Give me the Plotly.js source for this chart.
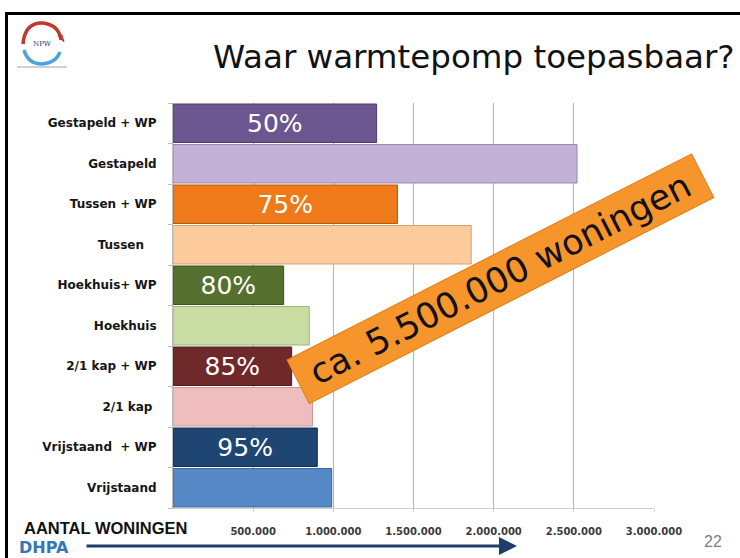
<!DOCTYPE html>
<html>
<head>
<meta charset="utf-8">
<script src="https://cdn.plot.ly/plotly-3.0.1.min.js"></script>
<style>html,body{margin:0;padding:0;background:#fff;}#chart{width:740px;height:558px;}</style>
</head>
<body>
<div id="chart"></div>
<script>
// ---- data ----
const categories = [
  "Gestapeld + WP", "Gestapeld", "Tussen + WP", "Tussen",
  "Hoekhuis+ WP", "Hoekhuis", "2/1 kap + WP", "2/1 kap",
  "Vrijstaand  + WP", "Vrijstaand"
];
const categoryLabels = [
  "Gestapeld + WP", "Gestapeld", "Tussen + WP", "Tussen\u00a0\u00a0\u00a0",
  "Hoekhuis+ WP", "Hoekhuis", "2/1 kap + WP", "2/1 kap\u00a0",
  "Vrijstaand\u00a0\u00a0+ WP", "Vrijstaand"
];
const woningen = [1270000, 2520000, 1400000, 1860000, 690000, 850000, 740000, 870000, 900000, 990000];
const percentLabels = ["50%", "", "75%", "", "80%", "", "85%", "", "95%", ""];
const barColors = ["#6b5690", "#c3b1d8", "#ef7a1a", "#fdcb9c", "#55702f", "#c9dca2", "#70292a", "#efbdbd", "#1f4572", "#5688c5"];
const barEdge = ["#4e3d6c", "#9a86b4", "#b85a0e", "#d8a277", "#3c5220", "#a0b67c", "#4f1a1b", "#c99797", "#14304f", "#3b6aa3"];
const xTickVals = [500000, 1000000, 1500000, 2000000, 2500000, 3000000];
const xTickText = ["500.000", "1.000.000", "1.500.000", "2.000.000", "2.500.000", "3.000.000"];
const title = "Waar warmtepomp toepasbaar?";
const callout = "ca. 5.500.000 woningen";

// ---- layout helpers (pixel -> paper) ----
const W = 740, H = 558;
const M = {l: 173, r: 86, t: 103, b: 50};
const pw = W - M.l - M.r, ph = H - M.t - M.b;
const px = v => (v - M.l) / pw;
const py = v => (H - M.b - v) / ph;
const pathOf = pts => pts.map(p => typeof p === "string" ? p : (px(p[0]).toFixed(4) + "," + py(p[1]).toFixed(4))).join(" ");

const trace = {
  type: "bar",
  orientation: "h",
  y: categories,
  x: woningen,
  text: percentLabels,
  textposition: "inside",
  insidetextanchor: "middle",
  textangle: 0,
  insidetextfont: {family: "DejaVu Sans", size: 25, color: "#ffffff"},
  marker: {color: barColors, line: {color: barEdge, width: 1}},
  hoverinfo: "skip",
  cliponaxis: false
};

const layout = {
  width: W, height: H,
  margin: {l: M.l, r: M.r, t: M.t, b: M.b, pad: 0},
  paper_bgcolor: "#ffffff",
  plot_bgcolor: "#ffffff",
  showlegend: false,
  bargap: 0.05,
  title: {
    text: title,
    xref: "container", yref: "container",
    x: 213 / W, xanchor: "left",
    y: 1 - 57 / H, yanchor: "middle",
    font: {family: "DejaVu Sans", size: 32.5, color: "#111111"}
  },
  xaxis: {
    range: [0, 3000000],
    tickvals: xTickVals,
    ticktext: xTickText,
    showgrid: true,
    gridcolor: "#b5b5b5",
    gridwidth: 1,
    zeroline: false,
    showline: true,
    linecolor: "#cfcfcf",
    linewidth: 1,
    ticks: "outside",
    ticklen: 3,
    tickcolor: "#cfcfcf",
    ticklabelstandoff: 11,
    tickfont: {family: "DejaVu Sans", size: 10, color: "#3a3a3a", weight: "bold"},
    automargin: false,
    fixedrange: true
  },
  yaxis: {
    categoryorder: "array",
    categoryarray: categories,
    autorange: "reversed",
    tickvals: categories,
    ticktext: categoryLabels,
    showline: true,
    linecolor: "#bdbdbd",
    linewidth: 1,
    ticks: "outside",
    tickson: "boundaries",
    ticklen: 4,
    tickcolor: "#bdbdbd",
    ticklabelstandoff: 13,
    tickfont: {family: "DejaVu Sans", size: 12, color: "#151515", weight: "bold"},
    showgrid: false,
    automargin: false,
    fixedrange: true
  },
  shapes: [
    // slide frame (top and left black edges)
    {type: "rect", xref: "paper", yref: "paper", x0: px(6.5), x1: px(760), y0: py(13.5), y1: py(600),
     line: {color: "#000000", width: 3}, fillcolor: "rgba(0,0,0,0)", layer: "below"},
    // logo arcs
    {type: "path", xref: "paper", yref: "paper",
     path: "M " + pathOf([[23, 44], "Q", [25, 22], [43, 23], "Q", [59, 25], [61, 40]]),
     line: {color: "#c0392b", width: 3.5}},
    {type: "path", xref: "paper", yref: "paper",
     path: "M " + pathOf([[58, 36], "L", [64, 42], "L", [62, 35], "Z"]),
     line: {color: "#c0392b", width: 1}, fillcolor: "#c0392b"},
    {type: "path", xref: "paper", yref: "paper",
     path: "M " + pathOf([[24, 50], "Q", [28, 64], [42, 64], "Q", [56, 63], [60, 52]]),
     line: {color: "#4aa3df", width: 3.5}},
    {type: "line", xref: "paper", yref: "paper", x0: px(17), x1: px(67), y0: py(67), y1: py(67),
     line: {color: "#b9c2cc", width: 1.5}}
  ],
  annotations: [
    // rotated callout
    {xref: "paper", yref: "paper", x: px(500), y: py(279), xanchor: "center", yanchor: "middle",
     text: "\u00a0" + callout + "\u00a0", showarrow: false, textangle: -27,
     font: {family: "DejaVu Sans", size: 35, color: "#111111"},
     bgcolor: "#f6952b", bordercolor: "#e07f18", borderwidth: 1, borderpad: 4},
    // logo text
    {xref: "paper", yref: "paper", x: px(42), y: py(44), xanchor: "center", yanchor: "middle",
     text: "NPW", showarrow: false, font: {family: "DejaVu Serif", size: 7, color: "#2a3a66"}},
    // axis title-like label
    {xref: "paper", yref: "paper", x: px(22), y: py(528), xanchor: "left", yanchor: "middle",
     text: "AANTAL WONINGEN", showarrow: false,
     font: {family: "Liberation Sans", size: 16.5, color: "#111111", weight: "bold"}},
    // arrow
    {xref: "paper", yref: "paper", x: px(517), y: py(546), ax: -432, ay: 0,
     axref: "pixel", ayref: "pixel", text: "", showarrow: true,
     arrowhead: 2, arrowsize: 1.2, arrowwidth: 3, arrowcolor: "#1f3d6b"},
    // DHPA
    {xref: "paper", yref: "paper", x: px(17), y: py(547), xanchor: "left", yanchor: "middle",
     text: "DHPA", showarrow: false,
     font: {family: "DejaVu Sans", size: 16, color: "#3477b8", weight: "bold"}},
    // slide number
    {xref: "paper", yref: "paper", x: px(713), y: py(541), xanchor: "center", yanchor: "middle",
     text: "22", showarrow: false, font: {family: "Liberation Sans", size: 16, color: "#808080"}}
  ]
};

Plotly.newPlot("chart", [trace], layout, {displayModeBar: false, staticPlot: true});
</script>
</body>
</html>
